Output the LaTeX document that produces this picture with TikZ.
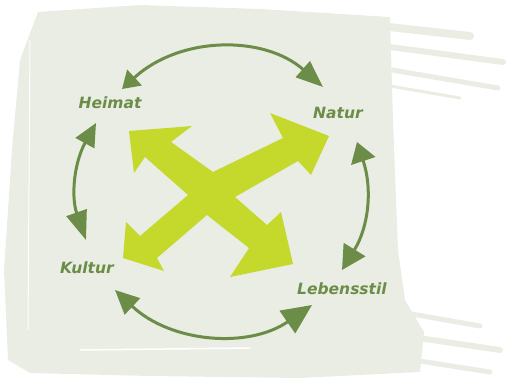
\documentclass[tikz,border=0pt]{standalone}
\usepackage{fontspec}
\setmainfont{DejaVu Sans}
\usetikzlibrary{arrows.meta}
\definecolor{paper}{RGB}{233,237,228}
\definecolor{leaf}{RGB}{108,141,72}
\definecolor{lime}{RGB}{197,217,45}

\begin{document}
\begin{tikzpicture}[
    x=1pt, y=-1pt,
    word/.style={font=\fontsize{15.5}{18}\selectfont\bfseries\itshape, text=leaf, inner sep=0pt},
    link/.style={draw=leaf, line width=3pt},
    stroke/.style={draw=paper, line cap=round}
]
\useasboundingbox (0,0) rectangle (508,385);

% brush background
\fill[paper] (38,12) -- (140,5) -- (260,9) -- (390,17) -- (393,120) -- (398,250)
    -- (405,300) -- (424,332) -- (420,372) -- (300,378) -- (150,376) -- (30,373)
    -- (8,360) -- (4,270) -- (12,150) -- (20,60) -- cycle;
\draw[stroke, line width=8pt] (380,26) -- (470,36);
\draw[stroke, line width=6pt] (390,47) -- (503,62);
\draw[stroke, line width=5pt] (392,70) -- (498,88);
\draw[stroke, line width=3pt] (390,86) -- (460,98);
\draw[stroke, line width=5pt] (400,312) -- (480,326);
\draw[stroke, line width=6pt] (405,336) -- (500,350);
\draw[stroke, line width=5pt] (400,358) -- (490,372);
\draw[white, line width=1.5pt] (80,350) -- (250,348);
\draw[white, line width=1pt] (30,40) -- (28,330);

% big cross
\fill[lime] (129,131) -- (192,126) -- (171,142) -- (213,172) -- (283,138)
    -- (270,113) -- (329,136) -- (311,175) -- (298,161) -- (235,197)
    -- (267,225) -- (281,212) -- (293,264) -- (230,277) -- (249,248)
    -- (207,215) -- (157,258) -- (164,271) -- (123,258) -- (126,222)
    -- (140,236) -- (188,195) -- (145,157) -- (134,173) -- cycle;

% labels
\node[word] (heimat) at (110,103) {Heimat};
\node[word] (natur) at (338,113) {Natur};
\node[word] (kultur) at (87,268) {Kultur};
\node[word] (leben) at (342,289) {Lebensstil};

% arrow ends
\coordinate (h1) at (122,89);
\coordinate (n1) at (323,87);
\coordinate (h2) at (96,123);
\coordinate (k1) at (86,240);
\coordinate (n2) at (357,142);
\coordinate (l1) at (342,270);
\coordinate (k2) at (115,290);
\coordinate (l2) at (312,305);

\draw[link, {Triangle[length=17pt,width=21pt]}-{Triangle[length=27pt,width=21pt]}]
    (h1) to[bend left=42] (n1);
\draw[link, {Triangle[length=23pt,width=21pt]}-{Triangle[length=29pt,width=21pt]}]
    (h2) to[bend right=24] (k1);
\draw[link, {Triangle[length=20pt,width=25pt]}-{Triangle[length=24pt,width=25pt]}]
    (n2) to[bend left=25] (l1);
\draw[link, {Triangle[length=24pt,width=22pt]}-{Triangle[length=30pt,width=27pt]}]
    (k2) to[bend right=39] (l2);
\end{tikzpicture}
\end{document}
